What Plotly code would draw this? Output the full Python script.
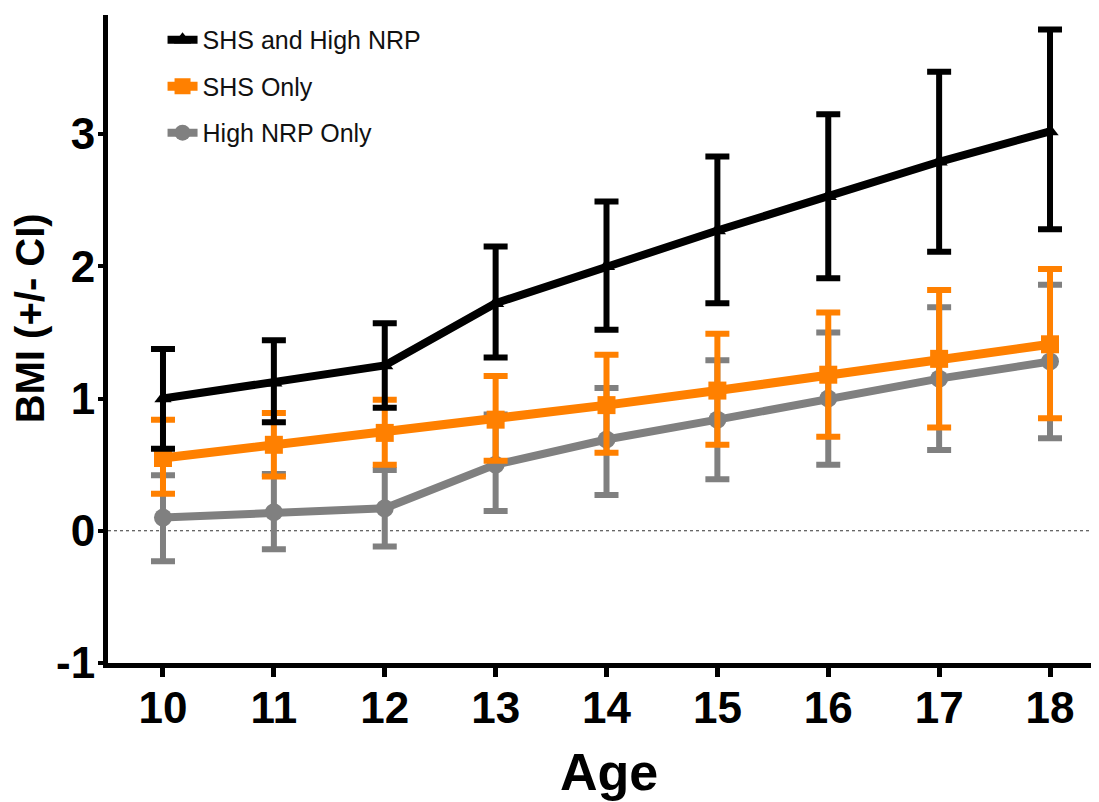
import plotly.graph_objects as go

ages = [10, 11, 12, 13, 14, 15, 16, 17, 18]

# SHS and High NRP
both_mean = [1.00, 1.12, 1.25, 1.72, 2.00, 2.27, 2.53, 2.79, 3.02]
both_hi = [1.375, 1.44, 1.57, 2.15, 2.49, 2.83, 3.15, 3.47, 3.79]
both_lo = [0.62, 0.82, 0.93, 1.31, 1.52, 1.72, 1.91, 2.11, 2.28]

# SHS Only
shs_mean = [0.55, 0.65, 0.74, 0.84, 0.95, 1.06, 1.18, 1.30, 1.41]
shs_hi = [0.84, 0.89, 0.99, 1.17, 1.33, 1.49, 1.65, 1.82, 1.98]
shs_lo = [0.28, 0.41, 0.50, 0.53, 0.59, 0.65, 0.71, 0.78, 0.85]

# High NRP Only
nrp_mean = [0.10, 0.14, 0.17, 0.50, 0.69, 0.84, 1.00, 1.15, 1.28]
nrp_hi = [0.42, 0.43, 0.46, 0.88, 1.08, 1.29, 1.50, 1.69, 1.86]
nrp_lo = [-0.23, -0.14, -0.12, 0.15, 0.27, 0.39, 0.50, 0.61, 0.70]

names = ["SHS and High NRP", "SHS Only", "High NRP Only"]
colors = ["#000000", "#FF8000", "#808080"]
y_ticks = [-1, 0, 1, 2, 3]
y_ticklabels = ["-1", "0", "1", "2", "3"]

FONT = "Liberation Sans, Arial, sans-serif"


def err(mean, hi, lo):
    return [h - m for h, m in zip(hi, mean)], [m - l for m, l in zip(mean, lo)]


fig = go.Figure()

series = [
    (names[2], nrp_mean, nrp_hi, nrp_lo, colors[2], "circle", 18, 8, 3),
    (names[1], shs_mean, shs_hi, shs_lo, colors[1], "square", 18, 9, 2),
    (names[0], both_mean, both_hi, both_lo, colors[0], "triangle-up", 15, 8, 1),
]

for name, m, hi, lo, col, sym, msize, lw, rank in series:
    up, dn = err(m, hi, lo)
    fig.add_trace(go.Scatter(
        x=ages, y=m, name=name, mode="lines+markers",
        line=dict(color=col, width=lw),
        marker=dict(symbol=sym, size=msize, color=col),
        error_y=dict(type="data", symmetric=False, array=up, arrayminus=dn,
                     color=col, thickness=6, width=12),
        legendrank=rank, legendgroup=name,
    ))

fig.add_shape(type="line", xref="paper", yref="y", x0=0, x1=1, y0=0, y1=0,
              line=dict(color="#333333", width=1, dash="dot"), layer="below")

fig.update_layout(
    width=1099, height=794,
    margin=dict(l=100, r=0, t=7, b=139),
    paper_bgcolor="white", plot_bgcolor="white",
    font=dict(family=FONT, color="black"),
    showlegend=True,
    legend=dict(x=0.0546, y=0.997, xanchor="left", yanchor="top",
                font=dict(size=25, family=FONT, color="#111111"),
                traceorder="grouped", tracegroupgap=11,
                bgcolor="rgba(0,0,0,0)", itemwidth=30),
    xaxis=dict(range=[9.504, 18.514], tickvals=ages, ticktext=[str(a) for a in ages],
               showline=True, linecolor="black", linewidth=5,
               ticks="outside", ticklen=9, tickwidth=5, tickcolor="black",
               showgrid=False, zeroline=False, ticklabelstandoff=-7,
               tickfont=dict(size=44, family=FONT, weight="bold", color="black")),
    yaxis=dict(range=[-1, 3.9], tickvals=y_ticks, ticktext=y_ticklabels,
               showline=True, linecolor="black", linewidth=5,
               ticks="outside", ticklen=5, tickwidth=4, tickcolor="black",
               showgrid=False, zeroline=False, ticklabelstandoff=-6,
               tickfont=dict(size=44, family=FONT, weight="bold", color="black")),
)

fig.add_annotation(text="Age", xref="x", yref="paper", x=14.02, y=-0.168,
                   xanchor="center", yanchor="middle", showarrow=False,
                   font=dict(size=52, family=FONT, weight="bold", color="black"))
fig.add_annotation(text="BMI (+/- CI)", xref="paper", yref="paper", x=-0.078, y=0.532,
                   xanchor="center", yanchor="middle", showarrow=False, textangle=-90,
                   font=dict(size=40, family=FONT, weight="bold", color="black"))

fig.write_html("out.html")
